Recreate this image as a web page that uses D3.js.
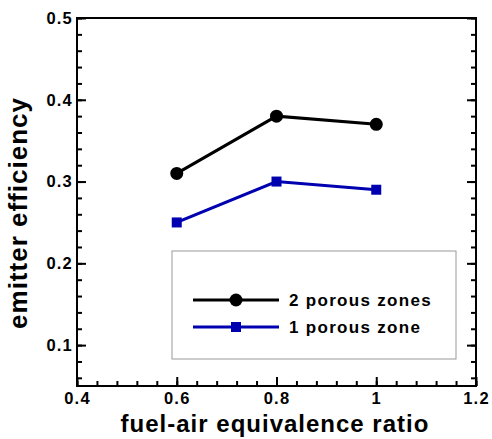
<!DOCTYPE html>
<html>
<head>
<meta charset="utf-8">
<script src="https://cdn.jsdelivr.net/npm/d3@7"></script>
<style>
  body { margin: 0; background: #fff; }
  svg { display: block; font-family: "Liberation Sans", Arial, sans-serif; font-weight: bold; }
</style>
</head>
<body>
<svg id="chart" width="492" height="439"></svg>
<script>
const ratios = [0.6, 0.8, 1.0];
const twoZones = [0.31, 0.38, 0.37];
const oneZone = [0.25, 0.30, 0.29];
const seriesNames = ['2 porous zones', '1 porous zone'];
const xTicks = [0.4, 0.6, 0.8, 1.0, 1.2];
const yTicks = [0.1, 0.2, 0.3, 0.4, 0.5];

const margin = { top: 18, right: 16, bottom: 53, left: 77 };
const width = 492 - margin.left - margin.right;
const height = 439 - margin.top - margin.bottom;

const svg = d3.select('#chart');
const g = svg.append('g').attr('transform', `translate(${margin.left},${margin.top})`);

const x = d3.scaleLinear().domain([0.4, 1.2]).range([0, width]);
const y = d3.scaleLinear().domain([0.05, 0.5]).range([height, 0]);

const xMinor = d3.range(0.4, 1.2001, 0.04);
const yMinor = d3.range(0.06, 0.5001, 0.02);

// minor ticks (inward)
g.append('g').attr('transform', `translate(0,${height})`)
  .call(d3.axisBottom(x).tickValues(xMinor).tickSize(-5).tickFormat(''))
  .call(s => s.select('.domain').remove());
g.append('g')
  .call(d3.axisLeft(y).tickValues(yMinor).tickSize(-5).tickFormat(''))
  .call(s => s.select('.domain').remove());
g.append('g').attr('transform', `translate(${width},0)`)
  .call(d3.axisRight(y).tickValues(yMinor).tickSize(-5).tickFormat(''))
  .call(s => s.select('.domain').remove());

// major ticks
const xAxis = g.append('g').attr('transform', `translate(0,${height})`)
  .call(d3.axisBottom(x).tickValues(xTicks).tickSize(-9).tickPadding(6).tickFormat(d3.format('~g')));
xAxis.select('.domain').remove();
xAxis.selectAll('text').attr('font-size', 16.5).attr('letter-spacing', 1.2).attr('fill', '#000');

const yAxis = g.append('g')
  .call(d3.axisLeft(y).tickValues(yTicks).tickSize(-9).tickPadding(4).tickFormat(d3.format('.1f')));
yAxis.select('.domain').remove();
yAxis.selectAll('text').attr('font-size', 16.5).attr('letter-spacing', 1.2).attr('fill', '#000');

g.append('g').attr('transform', `translate(${width},0)`)
  .call(d3.axisRight(y).tickValues(yTicks).tickSize(-9).tickFormat(''))
  .call(s => s.select('.domain').remove());

g.selectAll('.tick line').attr('stroke', '#000').attr('stroke-width', 2);

// frame
g.append('rect').attr('width', width).attr('height', height)
  .attr('fill', 'none').attr('stroke', '#000').attr('stroke-width', 2);

// axis titles
svg.append('text')
  .attr('x', 275).attr('y', 432)
  .attr('text-anchor', 'middle').attr('font-size', 24).attr('letter-spacing', 1)
  .text('fuel-air equivalence ratio');
svg.append('text')
  .attr('transform', 'translate(27,213) rotate(-90)')
  .attr('text-anchor', 'middle').attr('font-size', 26).attr('letter-spacing', 1)
  .text('emitter efficiency');

// data
const series = [
  { name: seriesNames[0], values: twoZones, color: '#000000', shape: 'circle' },
  { name: seriesNames[1], values: oneZone, color: '#0000b0', shape: 'square' }
];
const line = d3.line().x(d => x(d[0])).y(d => y(d[1]));

function marker(sel, shape, color) {
  if (shape === 'circle') {
    sel.append('circle').attr('r', 6.5).attr('fill', color);
  } else {
    sel.append('rect').attr('x', -5).attr('y', -5).attr('width', 10).attr('height', 10).attr('fill', color);
  }
}

series.forEach(s => {
  const pts = ratios.map((r, i) => [r, s.values[i]]);
  g.append('path').datum(pts)
    .attr('fill', 'none').attr('stroke', s.color).attr('stroke-width', 3)
    .attr('d', line);
  pts.forEach(p => {
    const m = g.append('g').attr('transform', `translate(${x(p[0])},${y(p[1])})`);
    marker(m, s.shape, s.color);
  });
});

// legend
const legend = svg.append('g');
legend.append('rect')
  .attr('x', 172).attr('y', 251).attr('width', 284).attr('height', 108)
  .attr('fill', '#fff').attr('stroke', '#999').attr('stroke-width', 1);
series.forEach((s, i) => {
  const ly = 300 + i * 27;
  legend.append('line').attr('x1', 193).attr('x2', 279).attr('y1', ly).attr('y2', ly)
    .attr('stroke', s.color).attr('stroke-width', 3);
  const m = legend.append('g').attr('transform', `translate(236,${ly})`);
  marker(m, s.shape, s.color);
  legend.append('text').attr('x', 289).attr('y', ly + 6)
    .attr('font-size', 17).attr('letter-spacing', 1.3).text(s.name);
});
</script>
</body>
</html>
